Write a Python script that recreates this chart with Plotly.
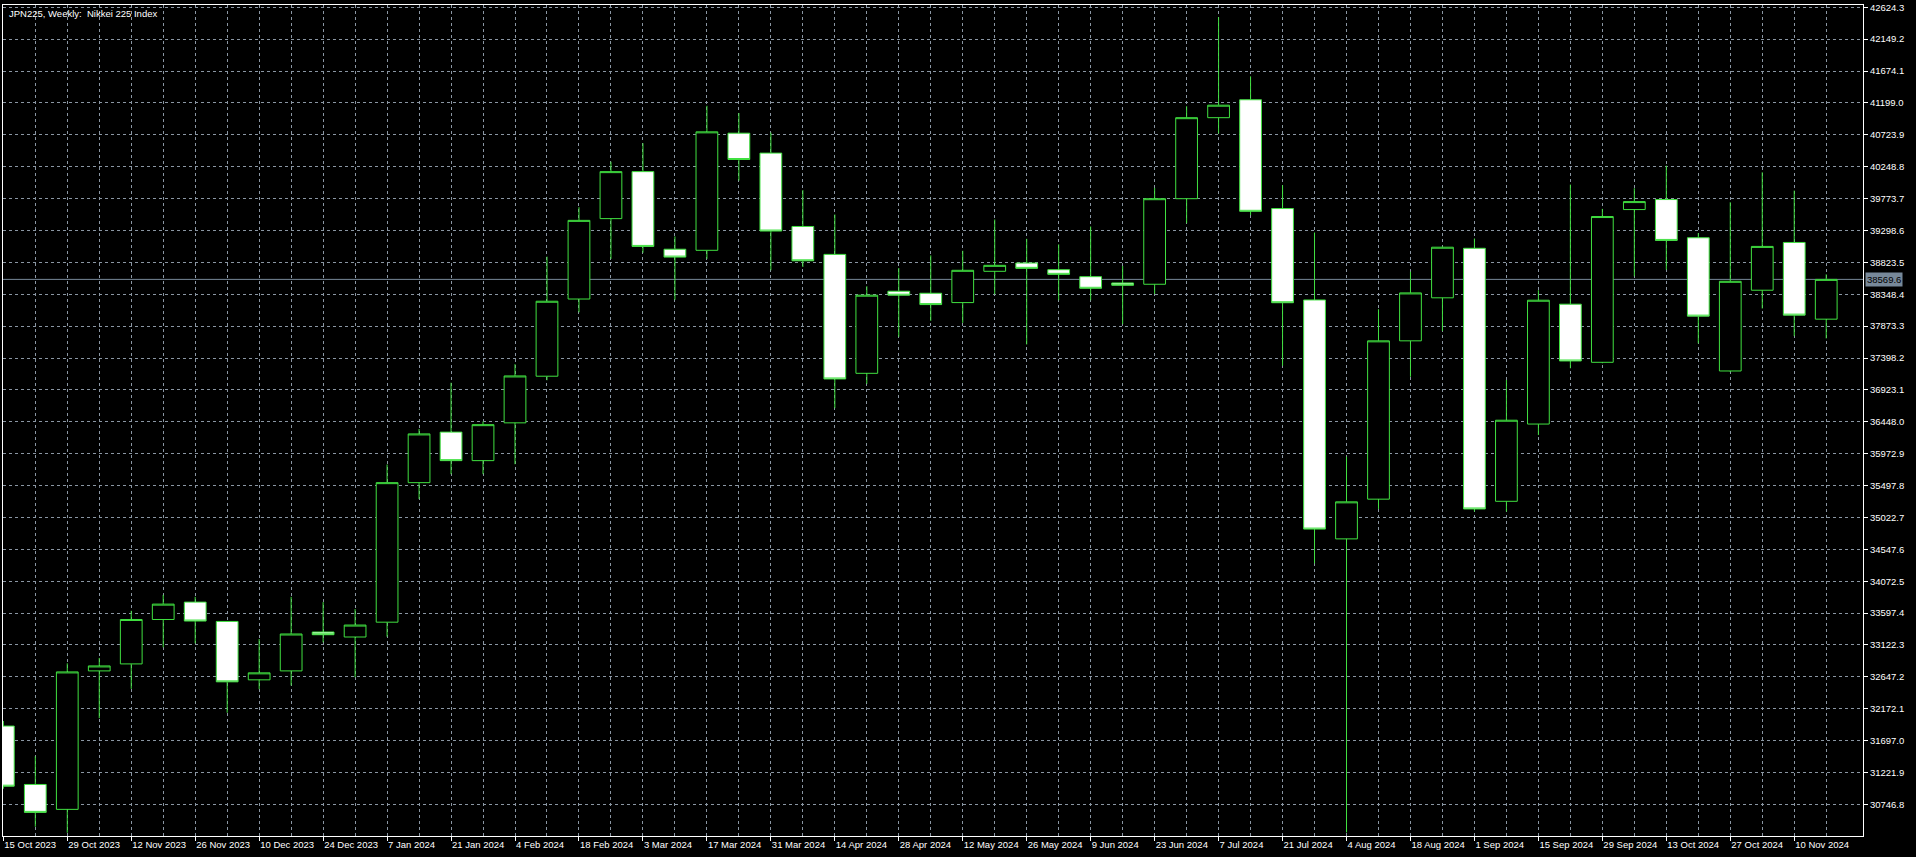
import pandas as pd
import plotly.graph_objects as go

# ---------------- data ----------------
weeks = [
    "2023-10-15", "2023-10-22", "2023-10-29", "2023-11-05", "2023-11-12", "2023-11-19",
    "2023-11-26", "2023-12-03", "2023-12-10", "2023-12-17", "2023-12-24", "2023-12-31",
    "2024-01-07", "2024-01-14", "2024-01-21", "2024-01-28", "2024-02-04", "2024-02-11",
    "2024-02-18", "2024-02-25", "2024-03-03", "2024-03-10", "2024-03-17", "2024-03-24",
    "2024-03-31", "2024-04-07", "2024-04-14", "2024-04-21", "2024-04-28", "2024-05-05",
    "2024-05-12", "2024-05-19", "2024-05-26", "2024-06-02", "2024-06-09", "2024-06-16",
    "2024-06-23", "2024-06-30", "2024-07-07", "2024-07-14", "2024-07-21", "2024-07-28",
    "2024-08-04", "2024-08-11", "2024-08-18", "2024-08-25", "2024-09-01", "2024-09-08",
    "2024-09-15", "2024-09-22", "2024-09-29", "2024-10-06", "2024-10-13", "2024-10-20",
    "2024-10-27", "2024-11-03", "2024-11-10", "2024-11-17",
]

opens = [
    31914, 31044, 30673, 32736, 32840, 33502, 33761, 33473, 32603, 32736, 33315, 33241,
    33462, 35541, 36294, 35869, 36432, 37127, 38277, 39475, 40175, 39019, 39003, 40748,
    40451, 39358, 38942, 37170, 38393, 38363, 38224, 38690, 38813, 38714, 38610, 38516,
    38497, 39772, 40979, 41246, 39625, 38263, 34703, 35295, 37654, 38295, 39033, 35263,
    36414, 38200, 37334, 39610, 39759, 39190, 37205, 38408, 39120, 37977,
]
highs = [
    31990, 31464, 32849, 32929, 33632, 33869, 33839, 33480, 33211, 33839, 33761, 33657,
    35811, 36341, 37030, 36452, 37306, 38908, 39645, 40323, 40599, 39210, 41156, 41049,
    40758, 39900, 39536, 38467, 38739, 38927, 38996, 39462, 39174, 39091, 39358, 38769,
    39933, 41149, 42478, 41595, 39973, 39268, 35928, 38125, 38684, 39060, 39179, 37071,
    38408, 39982, 39620, 39927, 40264, 39259, 39719, 40165, 39893, 38645,
]
lows = [
    30980, 30414, 30325, 32032, 32469, 33087, 33146, 32113, 32463, 32518, 33161, 32641,
    33246, 35296, 35667, 35667, 35816, 37067, 38080, 38875, 38966, 38265, 38875, 40042,
    38706, 38754, 36650, 37012, 37714, 37952, 37922, 38348, 37600, 38259, 38259, 37903,
    38352, 39406, 40743, 39527, 37282, 34338, 30330, 35149, 37119, 37800, 35109, 35109,
    36250, 37245, 37320, 38616, 38715, 37616, 37190, 38136, 37725, 37690,
]
closes = [
    31018, 30628, 32721, 32810, 33502, 33731, 33479, 32573, 32707, 33286, 33275, 33419,
    35541, 36267, 35869, 36405, 37131, 38244, 39449, 40175, 39061, 38902, 40768, 40356,
    39290, 38847, 37086, 38334, 38334, 38194, 38705, 38779, 38734, 38645, 38437, 38482,
    39772, 40979, 41165, 39584, 38222, 34849, 35255, 37654, 38368, 39049, 35149, 36471,
    38259, 37354, 39506, 39729, 39150, 38022, 38541, 39061, 38037, 38569.6,
]

x_tick_labels = [
    "15 Oct 2023", "29 Oct 2023", "12 Nov 2023", "26 Nov 2023", "10 Dec 2023",
    "24 Dec 2023", "7 Jan 2024", "21 Jan 2024", "4 Feb 2024", "18 Feb 2024",
    "3 Mar 2024", "17 Mar 2024", "31 Mar 2024", "14 Apr 2024", "28 Apr 2024",
    "12 May 2024", "26 May 2024", "9 Jun 2024", "23 Jun 2024", "7 Jul 2024",
    "21 Jul 2024", "4 Aug 2024", "18 Aug 2024", "1 Sep 2024", "15 Sep 2024",
    "29 Sep 2024", "13 Oct 2024", "27 Oct 2024", "10 Nov 2024",
]

y_tick_labels = [
    "42624.3", "42149.2", "41674.1", "41199.0", "40723.9", "40248.8", "39773.7",
    "39298.6", "38823.5", "38348.4", "37873.3", "37398.2", "36923.1", "36448.0",
    "35972.9", "35497.8", "35022.7", "34547.6", "34072.5", "33597.4", "33122.3",
    "32647.2", "32172.1", "31697.0", "31221.9", "30746.8",
]

title_text = "JPN225, Weekly:  Nikkei 225 Index"

# ---------------- style ----------------
GREEN = "#40e040"
GRID = "#8a96a3"
PRICE = "#778899"
FONT = "Liberation Sans, Arial, sans-serif"
FS = 9.5

fig = go.Figure()
fig.add_trace(go.Candlestick(
    x=weeks, open=opens, high=highs, low=lows, close=closes,
    increasing=dict(line=dict(color=GREEN, width=1), fillcolor="#000000"),
    decreasing=dict(line=dict(color=GREEN, width=1), fillcolor="#ffffff"),
    whiskerwidth=0, showlegend=False, hoverinfo="skip",
))

t0 = pd.Timestamp(weeks[0])
wk = pd.Timedelta(days=7)
x_range = [t0 - wk * 0.01, t0 + wk * 58.15]

fig.add_shape(type="line", xref="paper", x0=0, x1=1, yref="y",
              y0=closes[-1], y1=closes[-1], line=dict(color=PRICE, width=1),
              layer="below")

fig.add_annotation(xref="paper", x=1, xanchor="left", xshift=2, yref="y",
                   y=closes[-1], text=f"{closes[-1]:.1f}", showarrow=False,
                   bgcolor=PRICE, borderpad=1,
                   font=dict(family=FONT, size=FS, color="#000000"))

fig.add_annotation(xref="paper", x=0, xanchor="left", xshift=4,
                   yref="paper", y=1, yanchor="top", yshift=-1,
                   text=title_text, showarrow=False,
                   font=dict(family=FONT, size=FS, color="#ffffff"))

fig.update_layout(
    width=1916, height=857,
    margin=dict(l=2, r=53, t=2, b=21),
    paper_bgcolor="#000000", plot_bgcolor="#000000",
    font=dict(family=FONT, size=FS, color="#ffffff"),
    boxgap=0.32, boxgroupgap=0,
    xaxis=dict(
        type="date", range=x_range,
        tickvals=weeks[::2], ticktext=x_tick_labels,
        ticks="outside", ticklen=4, tickcolor="#ffffff",
        ticklabelposition="outside right",
        tickfont=dict(family=FONT, size=FS, color="#ffffff"),
        showline=True, linecolor="#ffffff", linewidth=1, mirror=True,
        showgrid=True, gridcolor=GRID, griddash="3px,3px", gridwidth=1,
        minor=dict(tickvals=weeks[1::2], showgrid=True, gridcolor=GRID,
                   griddash="3px,3px", gridwidth=1, ticks=""),
        rangeslider=dict(visible=False), zeroline=False, fixedrange=True,
    ),
    yaxis=dict(
        side="right", range=[30276, 42658],
        tickvals=[float(v) for v in y_tick_labels], ticktext=y_tick_labels,
        ticks="outside", ticklen=4, tickcolor="#ffffff",
        ticklabeloverflow="allow",
        tickfont=dict(family=FONT, size=FS, color="#ffffff"),
        showline=True, linecolor="#ffffff", linewidth=1, mirror=True,
        showgrid=True, gridcolor=GRID, griddash="3px,3px", gridwidth=1,
        zeroline=False, fixedrange=True,
    ),
)

fig.write_html(
    "out.html",
    config={"displayModeBar": False, "staticPlot": True},
    post_script="document.body.style.margin='0px';document.body.style.overflow='hidden';",
)
